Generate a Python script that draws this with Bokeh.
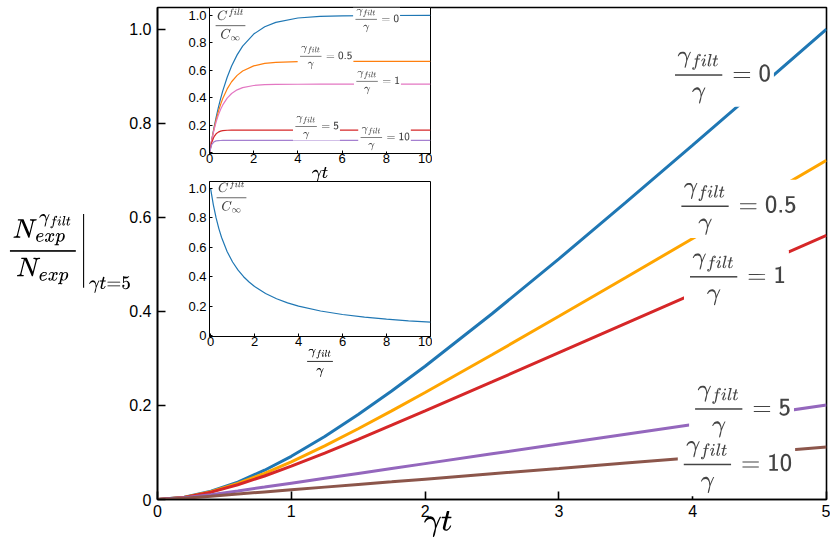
from bokeh.plotting import figure
from bokeh.models import Label, TeX, FixedTicker, Range1d, GridBox
from bokeh.embed import file_html
from bokeh.resources import INLINE

# ---------------- data ----------------
# main panel: normalised N_exp^{gamma_filt}/N_exp vs gamma*t
t_main = [0, 0.2, 0.4, 0.6, 0.8, 1.0, 1.25, 1.5, 1.75, 2, 2.5, 3, 3.5, 4, 4.5, 5]
n_g0 = [0, 0.0047, 0.0176, 0.0371, 0.0622, 0.0918, 0.1339, 0.1805, 0.2306, 0.2834, 0.3949, 0.5116, 0.6315, 0.7533, 0.8763, 1.0]
n_g05 = [0, 0.0045, 0.0165, 0.0340, 0.0556, 0.0802, 0.1141, 0.1504, 0.1883, 0.2274, 0.3077, 0.3895, 0.4720, 0.5549, 0.6380, 0.7211]
n_g1 = [0, 0.0044, 0.0156, 0.0313, 0.0500, 0.0708, 0.0987, 0.1279, 0.1579, 0.1883, 0.2500, 0.3121, 0.3744, 0.4368, 0.4992, 0.5616]
n_g5 = [0, 0.0035, 0.0103, 0.0182, 0.0264, 0.0347, 0.0451, 0.0555, 0.0659, 0.0763, 0.0971, 0.1179, 0.1387, 0.1595, 0.1802, 0.2011]
n_g10 = [0, 0.0027, 0.0070, 0.0116, 0.0161, 0.0206, 0.0263, 0.0320, 0.0376, 0.0433, 0.0547, 0.0660, 0.0774, 0.0887, 0.1000, 0.1114]

# inset 1: C^filt / C_inf vs gamma*t
t_ins = [0, 0.1, 0.2, 0.3, 0.4, 0.5, 0.6, 0.8, 1, 1.25, 1.5, 2, 2.5, 3, 4, 5, 6, 8, 10]
c_g0 = [0, 0.0952, 0.1813, 0.2592, 0.3297, 0.3935, 0.4512, 0.5507, 0.6321, 0.7135, 0.7769, 0.8647, 0.9179, 0.9502, 0.9817, 0.9933, 0.9975, 0.9997, 1.0]
c_g05 = [0, 0.0929, 0.1728, 0.2416, 0.3008, 0.3517, 0.3956, 0.4659, 0.5179, 0.5644, 0.5964, 0.6335, 0.6510, 0.6593, 0.6650, 0.6663, 0.6666, 0.6667, 0.6667]
c_g1 = [0, 0.0906, 0.1648, 0.2256, 0.2753, 0.3161, 0.3494, 0.3991, 0.4323, 0.4590, 0.4751, 0.4908, 0.4966, 0.4988, 0.4998, 0.5, 0.5, 0.5, 0.5]
c_g5 = [0, 0.0752, 0.1165, 0.1391, 0.1516, 0.1584, 0.1621, 0.1653, 0.1663, 0.1666, 0.1667, 0.1667, 0.1667, 0.1667, 0.1667, 0.1667, 0.1667, 0.1667, 0.1667]
c_g10 = [0, 0.0606, 0.0808, 0.0876, 0.0898, 0.0905, 0.0908, 0.0909, 0.0909, 0.0909, 0.0909, 0.0909, 0.0909, 0.0909, 0.0909, 0.0909, 0.0909, 0.0909, 0.0909]

# inset 2: C^filt / C_inf vs gamma_filt/gamma
g_ratio = [0, 0.125, 0.25, 0.375, 0.5, 0.75, 1, 1.25, 1.5, 1.75, 2, 2.5, 3, 3.5, 4, 5, 6, 7, 8, 9, 10]
c_ratio = [1.0, 0.8889, 0.8, 0.7273, 0.6667, 0.5714, 0.5, 0.4444, 0.4, 0.3636, 0.3333, 0.2857, 0.25, 0.2222, 0.2, 0.1667, 0.1429, 0.125, 0.1111, 0.1, 0.0909]

# tick values / labels
main_xticks = [0, 1, 2, 3, 4, 5]
main_xtick_labels = ["0", "1", "2", "3", "4", "5"]
main_yticks = [0, 0.2, 0.4, 0.6, 0.8, 1.0]
main_ytick_labels = ["0", "0.2", "0.4", "0.6", "0.8", "1.0"]
ins_xticks = [0, 2, 4, 6, 8, 10]
ins_xtick_labels = ["0", "2", "4", "6", "8", "10"]
ins_yticks = [0, 0.2, 0.4, 0.6, 0.8, 1.0]
ins_ytick_labels = ["0", "0.2", "0.4", "0.6", "0.8", "1.0"]
ratio_names = ["0", "0.5", "1", "5", "10"]

FONT = "Liberation Sans"


def style_axes(fig, xt, xl, yt, yl, size, tick_in, standoff_x, standoff_y, lw):
    fig.xaxis.ticker = FixedTicker(ticks=xt)
    fig.yaxis.ticker = FixedTicker(ticks=yt)
    fig.xaxis.major_label_overrides = {k: v for k, v in zip(xt, xl)}
    fig.yaxis.major_label_overrides = {k: v for k, v in zip(yt, yl)}
    for ax in (fig.xaxis[0], fig.yaxis[0]):
        ax.major_tick_in = tick_in
        ax.major_tick_out = 0
        ax.minor_tick_in = 0
        ax.minor_tick_out = 0
        ax.axis_line_color = "black"
        ax.axis_line_width = lw
        ax.major_tick_line_color = "black"
        ax.major_tick_line_width = lw
        ax.major_label_text_font = FONT
        ax.major_label_text_font_size = size
        ax.major_label_text_color = "black"
        ax.axis_label_text_color = "black"
    fig.xaxis.major_label_standoff = standoff_x
    fig.yaxis.major_label_standoff = standoff_y
    fig.xgrid.visible = False
    fig.ygrid.visible = False
    fig.outline_line_color = "black"
    fig.outline_line_width = lw


def tex(fig, x, y, text, size, bg=True, pad=2):
    lab = Label(x=x, y=y, text=TeX(text=text), text_font_size=size,
                text_align="center", text_baseline="middle",
                background_fill_color="white" if bg else None,
                padding=pad)
    fig.add_layout(lab)
    return lab


# ---------------- main figure ----------------
p = figure(width=830, height=543, output_backend="svg", toolbar_location=None,
           x_range=Range1d(0, 5), y_range=Range1d(0, 1.046),
           min_border_left=157, min_border_right=4, min_border_top=1, min_border_bottom=44)
p.border_fill_color = "white"
style_axes(p, main_xticks, main_xtick_labels, main_yticks, main_ytick_labels,
           "16px", 8, 5, 6, 1.6)

main_series = [n_g0, n_g05, n_g1, n_g5, n_g10]
main_colors = ["#1f77b4", "#ffa500", "#d62728", "#9467bd", "#8c564b"]
for ys, col in zip(main_series, main_colors):
    p.line(t_main, ys, line_color=col, line_width=3)

main_label_pos = [(4.215, 0.897), (4.335, 0.618), (4.327, 0.468), (4.365, 0.187), (4.327, 0.069)]
for (lx, ly), name in zip(main_label_pos, ratio_names):
    tex(p, lx, ly, r"\frac{\gamma_{filt}}{\gamma} = \mathsf{%s}" % name, "21px", pad=3)

p.xaxis.axis_label = TeX(text=r"\gamma t\hspace{3.4em}")
p.xaxis.axis_label_text_font_size = "25px"
p.xaxis.axis_label_standoff = -9
p.yaxis.axis_label = TeX(text=r"\left.\frac{N_{exp}^{\gamma_{filt}}}{N_{exp}}\right|_{\gamma t=5}")
p.yaxis.axis_label_text_font_size = "22px"
p.yaxis.axis_label_orientation = "horizontal"
p.yaxis.axis_label_standoff = -6

# ---------------- inset 1 ----------------
i1 = figure(width=257, height=186, output_backend="svg", toolbar_location=None,
            x_range=Range1d(0, 10), y_range=Range1d(-0.004, 1.058),
            min_border_left=34, min_border_right=2, min_border_top=7, min_border_bottom=33)
i1.border_fill_color = None
i1.background_fill_color = "white"
style_axes(i1, ins_xticks, ins_xtick_labels, ins_yticks, ins_ytick_labels,
           "13px", 3, 0, 3, 1)
ins_series = [c_g0, c_g05, c_g1, c_g5, c_g10]
ins_colors = ["#1f77b4", "#ff7f0e", "#e377c2", "#d62728", "#a580d0"]
for ys, col in zip(ins_series, ins_colors):
    i1.line(t_ins, ys, line_color=col, line_width=1.2)
ins_label_pos = [(7.56, 0.964), (5.25, 0.695), (7.60, 0.513), (4.84, 0.185), (7.92, 0.105)]
for (lx, ly), name in zip(ins_label_pos, ratio_names):
    tex(i1, lx, ly, r"\frac{\gamma_{filt}}{\gamma} = \mathsf{%s}" % name, "9.5px", pad=1)
tex(i1, 0.95, 0.935, r"\frac{C^{filt}}{C_{\infty}}", "10px", bg=False, pad=0)
i1.xaxis.axis_label = TeX(text=r"\gamma t")
i1.xaxis.axis_label_text_font_size = "14px"
i1.xaxis.axis_label_standoff = 1

# ---------------- inset 2 ----------------
i2 = figure(width=257, height=202, output_backend="svg", toolbar_location=None,
            x_range=Range1d(-0.05, 10), y_range=Range1d(-0.007, 1.048),
            min_border_left=33, min_border_right=2, min_border_top=3, min_border_bottom=44)
i2.border_fill_color = None
i2.background_fill_color = "white"
style_axes(i2, ins_xticks, ins_xtick_labels, ins_yticks, ins_ytick_labels,
           "13px", 3, 0, 3, 1)
i2.line(g_ratio, c_ratio, line_color="#1f77b4", line_width=1.2)
tex(i2, 0.95, 0.946, r"\frac{C^{filt}}{C_{\infty}}", "10px", bg=False, pad=0)
i2.xaxis.axis_label = TeX(text=r"\frac{\gamma_{filt}}{\gamma}")
i2.xaxis.axis_label_text_font_size = "11px"
i2.xaxis.axis_label_standoff = 0

layout = GridBox(children=[(p, 0, 0, 4, 3), (i1, 0, 1, 2, 1), (i2, 1, 1, 2, 1)],
                 rows=["178px", "8px", "194px", "163px"], cols=["175px", "257px", "398px"])

open("out.html", "w").write(file_html(layout, INLINE))
